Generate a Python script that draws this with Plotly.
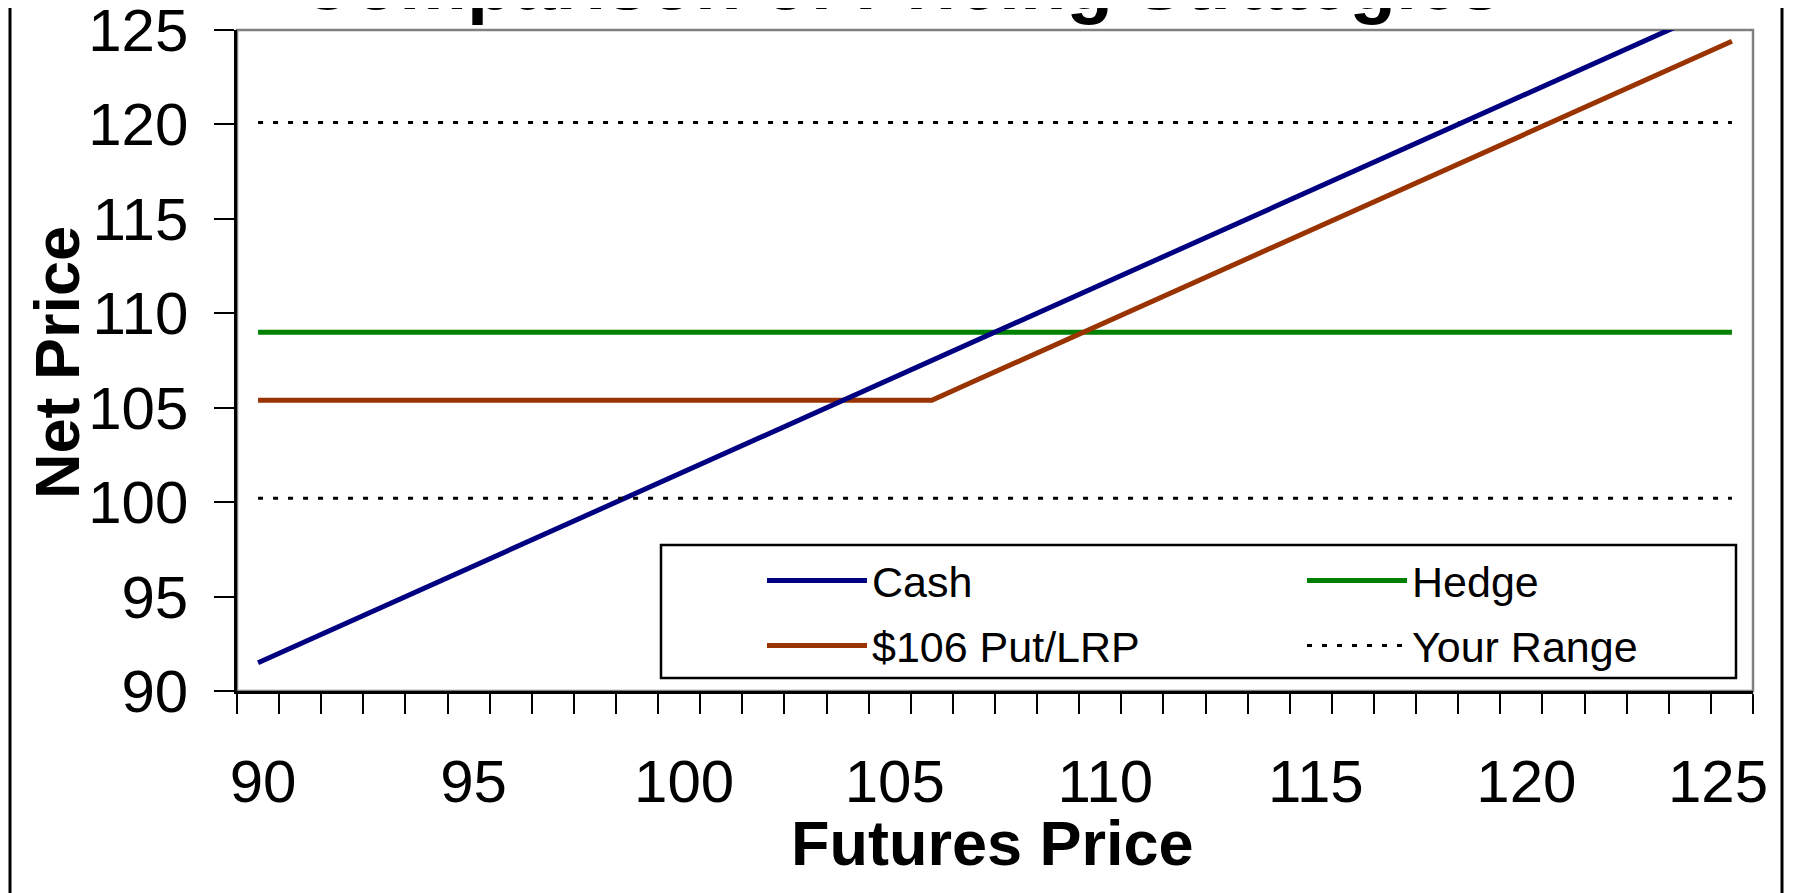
import plotly.graph_objects as go

# ---------------- data ----------------
futures_price = [90, 91, 92, 93, 94, 95, 96, 97, 98, 99, 100, 101, 102, 103, 104, 105, 106, 107,
                 108, 109, 110, 111, 112, 113, 114, 115, 116, 117, 118, 119, 120, 121, 122, 123, 124, 125]
cash = [91.5, 92.5, 93.5, 94.5, 95.5, 96.5, 97.5, 98.5, 99.5, 100.5, 101.5, 102.5, 103.5, 104.5,
        105.5, 106.5, 107.5, 108.5, 109.5, 110.5, 111.5, 112.5, 113.5, 114.5, 115.5, 116.5, 117.5,
        118.5, 119.5, 120.5, 121.5, 122.5, 123.5, 124.5, 125.5, 126.5]
hedge = [109.0, 109.0, 109.0, 109.0, 109.0, 109.0, 109.0, 109.0, 109.0, 109.0, 109.0, 109.0,
         109.0, 109.0, 109.0, 109.0, 109.0, 109.0, 109.0, 109.0, 109.0, 109.0, 109.0, 109.0,
         109.0, 109.0, 109.0, 109.0, 109.0, 109.0, 109.0, 109.0, 109.0, 109.0, 109.0, 109.0]
put_lrp = [105.4, 105.4, 105.4, 105.4, 105.4, 105.4, 105.4, 105.4, 105.4, 105.4, 105.4, 105.4,
           105.4, 105.4, 105.4, 105.4, 105.4, 106.4, 107.4, 108.4, 109.4, 110.4, 111.4, 112.4,
           113.4, 114.4, 115.4, 116.4, 117.4, 118.4, 119.4, 120.4, 121.4, 122.4, 123.4, 124.4]
range_low = [100.2, 100.2, 100.2, 100.2, 100.2, 100.2, 100.2, 100.2, 100.2, 100.2, 100.2, 100.2,
             100.2, 100.2, 100.2, 100.2, 100.2, 100.2, 100.2, 100.2, 100.2, 100.2, 100.2, 100.2,
             100.2, 100.2, 100.2, 100.2, 100.2, 100.2, 100.2, 100.2, 100.2, 100.2, 100.2, 100.2]
range_high = [120.1, 120.1, 120.1, 120.1, 120.1, 120.1, 120.1, 120.1, 120.1, 120.1, 120.1, 120.1,
              120.1, 120.1, 120.1, 120.1, 120.1, 120.1, 120.1, 120.1, 120.1, 120.1, 120.1, 120.1,
              120.1, 120.1, 120.1, 120.1, 120.1, 120.1, 120.1, 120.1, 120.1, 120.1, 120.1, 120.1]
x_tick_vals = [90, 95, 100, 105, 110, 115, 120, 125]
y_tick_vals = [90, 95, 100, 105, 110, 115, 120, 125]

title_text = "Comparison of Pricing Strategies"
x_title = "Futures Price"
y_title = "Net Price"

# ---------------- layout constants (page pixels) ----------------
OFF = 8                                   # default body margin of the html page
W, H = 1801 - OFF, 893 - OFF              # figure size
PL, PR, PT, PB = 237, 1753, 30, 691       # plot area in page pixels
FONT = "Liberation Sans, Arial, sans-serif"
pw, ph = PR - PL, PB - PT


def px_x(p):
    return (p - PL) / pw


def px_y(p):
    return (PB - p) / ph


# legend box (page pixels)
LB_L, LB_T, LB_R, LB_B = 661, 545, 1736, 678
ROW_GAP = 65
LINE_W = 5

fig = go.Figure()

fig.add_trace(go.Scatter(x=futures_price, y=range_low, mode="lines", name="Your Range",
                         xaxis="x2", legendgroup="range", showlegend=False, hoverinfo="skip",
                         line=dict(color="black", width=3, dash="5px,10px")))
fig.add_trace(go.Scatter(x=futures_price, y=range_high, mode="lines", name="Your Range",
                         legend="legend2", legendgroup="range", legendrank=2, legendwidth=319,
                         line=dict(color="black", width=3, dash="5px,10px")))
fig.add_trace(go.Scatter(x=futures_price, y=hedge, mode="lines", name="Hedge",
                         legend="legend", legendrank=2, legendwidth=319,
                         line=dict(color="#008000", width=LINE_W)))
fig.add_trace(go.Scatter(x=futures_price, y=put_lrp, mode="lines", name="$106 Put/LRP",
                         legend="legend2", legendrank=1, legendwidth=326,
                         line=dict(color="#993300", width=LINE_W)))
fig.add_trace(go.Scatter(x=futures_price, y=cash, mode="lines", name="Cash",
                         legend="legend", legendrank=1, legendwidth=326,
                         line=dict(color="#000080", width=LINE_W)))

legend_common = dict(
    orientation="h",
    x=px_x(LB_L + 2), xanchor="left", yanchor="top",
    bgcolor="rgba(0,0,0,0)", borderwidth=0,
    font=dict(family=FONT, size=43, color="black"),
    itemwidth=100,
    indentation=99,
    traceorder="normal",
)

xtick_font = dict(family=FONT, size=60, color="black")

fig.update_layout(
    width=W, height=H,
    margin=dict(l=PL - OFF, r=(W + OFF) - PR, t=PT - OFF, b=(H + OFF) - PB, pad=0,
                autoexpand=False),
    paper_bgcolor="white", plot_bgcolor="white",
    font=dict(family=FONT, color="black"),
    showlegend=True,
    legend=dict(legend_common, y=px_y(LB_T + 1)),
    legend2=dict(legend_common, y=px_y(LB_T + 1 + ROW_GAP)),
    xaxis=dict(
        range=[89.5, 125.5], automargin=False,
        tickmode="array", tickvals=x_tick_vals[:-1],
        ticks="", showgrid=False, zeroline=False,
        showline=True, linecolor="black", linewidth=2.5,
        tickfont=xtick_font,
        ticklabelstandoff=36, ticklabeloverflow="allow", ticklabelshift=5,
        minor=dict(ticks="outside", tick0=89.5, dtick=1, ticklen=20,
                   tickwidth=2, tickcolor="black", showgrid=False),
    ),
    # second x axis only carries the last label, which sits pulled in from the edge
    xaxis2=dict(
        range=[89.5, 125.5], automargin=False, overlaying="x", side="bottom",
        anchor="y", matches="x",
        tickmode="array", tickvals=x_tick_vals[-1:],
        ticks="", showgrid=False, zeroline=False, showline=False,
        tickfont=xtick_font,
        ticklabelstandoff=50, ticklabeloverflow="allow", ticklabelshift=-14,
    ),
    yaxis=dict(
        range=[90, 125], automargin=False,
        tickmode="array", tickvals=y_tick_vals,
        ticks="outside", ticklen=20, tickwidth=2, tickcolor="black",
        showgrid=False, zeroline=False,
        showline=True, linecolor="black", linewidth=2.5,
        tickfont=dict(family=FONT, size=60, color="black"),
        ticklabelstandoff=14, ticklabeloverflow="allow",
    ),
    shapes=[
        # gray plot-area frame (top / right visible)
        dict(type="rect", xref="paper", yref="paper", x0=0, x1=1, y0=0, y1=1,
             line=dict(color="#808080", width=2.5), layer="below"),
        # legend box
        dict(type="rect", xref="paper", yref="paper",
             x0=px_x(LB_L), x1=px_x(LB_R), y0=px_y(LB_B), y1=px_y(LB_T),
             line=dict(color="black", width=2.5), fillcolor="white", layer="above"),
        # outer chart border
        dict(type="rect", xref="paper", yref="paper",
             x0=px_x(OFF + 2), x1=px_x(1782), y0=px_y(H + 60), y1=px_y(-100),
             line=dict(color="black", width=3), fillcolor="rgba(0,0,0,0)"),
    ],
    annotations=[
        dict(text="<b>%s</b>" % title_text, xref="paper", yref="paper",
             x=px_x(900), y=px_y(10 - 0.358 * 76), xanchor="center", yanchor="middle",
             showarrow=False, font=dict(family=FONT, size=76, color="black")),
        dict(text="<b>%s</b>" % x_title, xref="paper", yref="paper",
             x=px_x(992), y=px_y(842.5), xanchor="center", yanchor="middle",
             showarrow=False, font=dict(family=FONT, size=63, color="black")),
        dict(text="<b>%s</b>" % y_title, xref="paper", yref="paper",
             x=px_x(57), y=px_y(363), xanchor="center", yanchor="middle",
             textangle=-90, showarrow=False,
             font=dict(family=FONT, size=63, color="black")),
    ],
)

fig.write_html("out.html")
